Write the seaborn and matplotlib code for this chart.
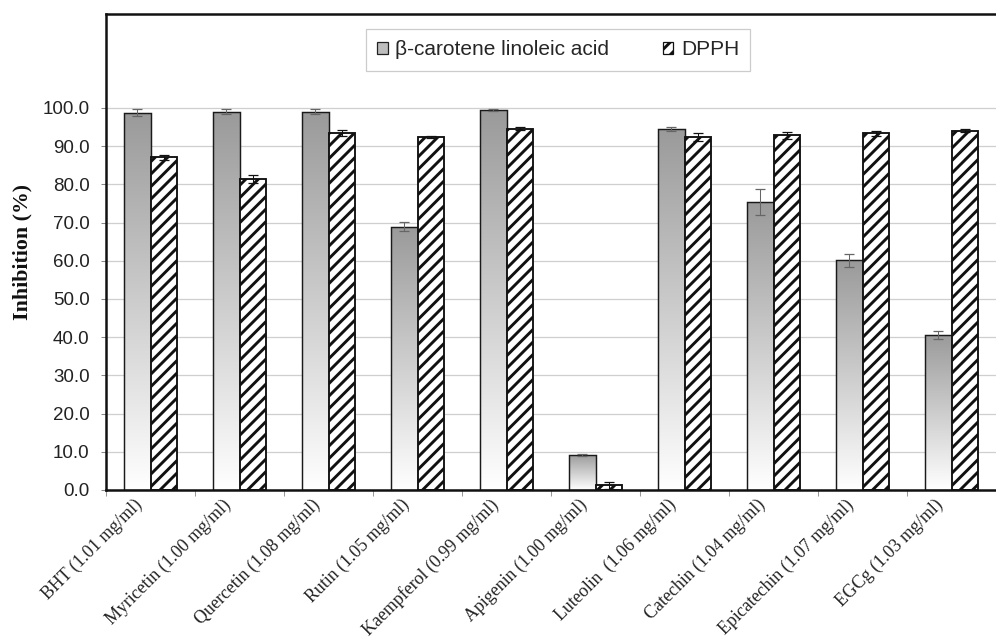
import matplotlib
matplotlib.use("Agg")
import matplotlib.pyplot as plt
import matplotlib.patches as mpatches
import matplotlib.transforms as mtransforms
from matplotlib.colors import LinearSegmentedColormap
from matplotlib.ticker import FixedLocator, FormatStrFormatter
import numpy as np
import pandas as pd
import seaborn as sns

compounds = [
    "BHT (1.01 mg/ml)", "Myricetin (1.00 mg/ml)", "Quercetin (1.08 mg/ml)",
    "Rutin (1.05 mg/ml)", "Kaempferol (0.99 mg/ml)", "Apigenin (1.00 mg/ml)",
    "Luteolin  (1.06 mg/ml)", "Catechin (1.04 mg/ml)", "Epicatechin (1.07 mg/ml)",
    "EGCg (1.03 mg/ml)",
]
assays = ["β-carotene linoleic acid", "DPPH"]
beta_carotene = [98.8, 99.0, 99.0, 68.9, 99.5, 9.2, 94.5, 75.4, 60.2, 40.6]
beta_err = [1.0, 0.7, 0.7, 1.2, 0.3, 0.2, 0.5, 3.5, 1.7, 1.0]
dpph = [87.1, 81.4, 93.4, 92.4, 94.6, 1.2, 92.4, 92.8, 93.4, 94.1]
dpph_err = [0.7, 1.0, 0.8, 0.3, 0.3, 1.0, 1.0, 1.0, 0.7, 0.3]
yticks = [0, 10, 20, 30, 40, 50, 60, 70, 80, 90, 100]

df = pd.DataFrame({
    "compound": compounds * 2,
    "assay": [assays[0]] * len(compounds) + [assays[1]] * len(compounds),
    "inhibition": beta_carotene + dpph,
})

sns.set_theme(style="white")
plt.rcParams["font.family"] = ["Liberation Sans", "DejaVu Sans"]
plt.rcParams["hatch.linewidth"] = 1.4

fig = plt.figure(figsize=(996 / 150, 640 / 150), dpi=150)
ax = fig.add_axes([106 / 996, 150 / 640, 890 / 996, 476 / 640])

sns.barplot(
    data=df, x="compound", y="inhibition", hue="assay", order=compounds,
    hue_order=assays, palette=["white", "white"], saturation=1, width=0.6,
    errorbar=None, edgecolor="#1a1a1a", linewidth=0.7, legend=False, ax=ax,
)

beta_bars, dpph_bars = ax.containers[0], ax.containers[1]

# vertical grey gradient inside each beta-carotene bar
grad_cmap = LinearSegmentedColormap.from_list("grey_grad", ["#ffffff", "#9a9a9a"])
grad = np.linspace(0, 1, 256).reshape(-1, 1)
for rect in beta_bars:
    x0, w, h = rect.get_x(), rect.get_width(), rect.get_height()
    im = ax.imshow(grad, cmap=grad_cmap, extent=[x0, x0 + w, 0, h], origin="lower",
                   aspect="auto", interpolation="bicubic", zorder=0.9)
    im.set_clip_path(rect)
    rect.set_facecolor("none")

for rect in dpph_bars:
    rect.set_hatch("////")
    rect.set_edgecolor("#111111")
    rect.set_linewidth(0.9)

for bars, err, col in [(beta_bars, beta_err, "#666666"), (dpph_bars, dpph_err, "#111111")]:
    xs = [r.get_x() + r.get_width() / 2 for r in bars]
    ys = [r.get_height() for r in bars]
    ax.errorbar(xs, ys, yerr=err, fmt="none", ecolor=col, elinewidth=0.5,
                capsize=2.5, capthick=0.6, zorder=3)

ax.set_xlim(-0.5, len(compounds) - 0.5)
ax.set_ylim(0, 124.6)
ax.set_axisbelow(True)
ax.yaxis.grid(True, color="#cfcfcf", linewidth=0.6)
ax.yaxis.set_major_locator(FixedLocator(yticks))
ax.yaxis.set_major_formatter(FormatStrFormatter("%.1f"))
ax.tick_params(axis="y", which="major", length=2.5, width=0.5, color="#888888",
               labelsize=9, labelcolor="#222222", pad=5.4, left=True)
ax.xaxis.set_minor_locator(FixedLocator(np.arange(-0.5, len(compounds), 1.0)))
ax.tick_params(axis="x", which="major", length=0, pad=3)
ax.tick_params(axis="x", which="minor", length=3, width=0.5, color="#999999", bottom=True)
shift = mtransforms.ScaledTranslation(-11 / 150, -6 / 150, fig.dpi_scale_trans)
for lab in ax.get_xticklabels():
    lab.set_rotation(45)
    lab.set_ha("right")
    lab.set_va("center")
    lab.set_rotation_mode("anchor")
    lab.set_family(["Liberation Serif", "DejaVu Serif"])
    lab.set_fontsize(8.6)
    lab.set_color("#222222")
    lab.set_transform(lab.get_transform() + shift)

ax.set_xlabel("")
ax.set_ylabel("Inhibition (%)", family=["Liberation Serif", "DejaVu Serif"],
              fontweight="bold", fontsize=10.5, color="#111111")
ax.yaxis.set_label_coords(-0.083, 0.5)

for side in ["left", "top", "bottom"]:
    ax.spines[side].set_color("#111111")
    ax.spines[side].set_linewidth(1.2)
ax.spines["right"].set_visible(False)

handles = [
    mpatches.Patch(facecolor="#bdbdbd", edgecolor="#222222", linewidth=0.6),
    mpatches.Patch(facecolor="white", edgecolor="#111111", hatch="////", linewidth=0.6),
]
leg = ax.legend(handles, assays, loc="upper center", bbox_to_anchor=(0.508, 0.969),
                ncol=2, frameon=True, fancybox=False, fontsize=10, handlelength=0.5,
                handleheight=0.5, handletextpad=0.35, columnspacing=2.6,
                borderpad=0.55, borderaxespad=0, framealpha=1)
leg.get_frame().set_edgecolor("#cccccc")
leg.get_frame().set_linewidth(0.6)

fig.savefig("out.png", dpi=150)
